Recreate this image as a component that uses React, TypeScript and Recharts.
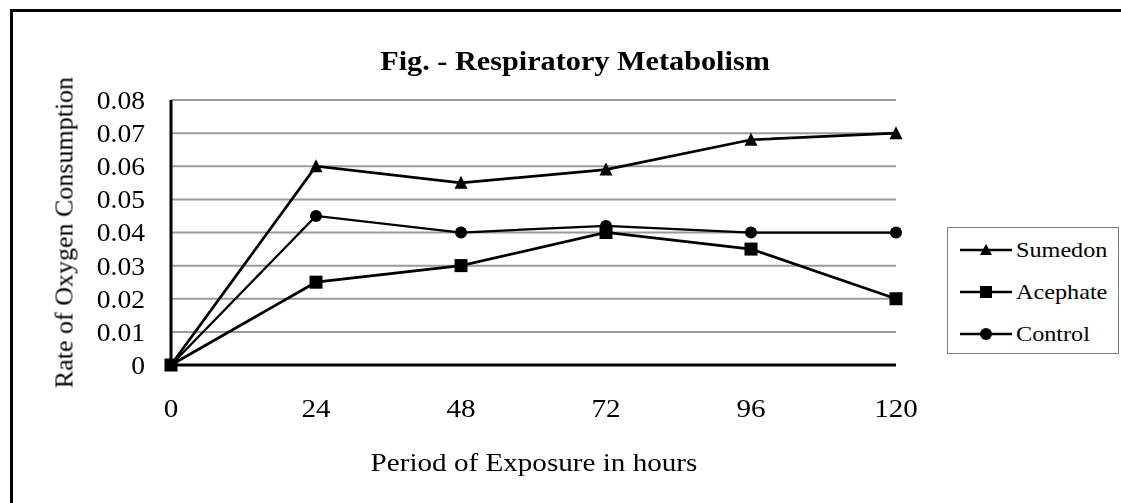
import { LineChart, Line, XAxis, YAxis, CartesianGrid, Legend } from 'recharts';

const hours = ['0', '24', '48', '72', '96', '120'];
const sumedon = [0, 0.06, 0.055, 0.059, 0.068, 0.07];
const acephate = [0, 0.025, 0.03, 0.04, 0.035, 0.02];
const control = [0, 0.045, 0.04, 0.042, 0.04, 0.04];
const yTicks = [0, 0.01, 0.02, 0.03, 0.04, 0.05, 0.06, 0.07, 0.08];

const FONT = '"Liberation Serif", Tinos, "Times New Roman", Times, "DejaVu Serif", serif';
// the reference text is a bit wider than it is tall
const STRETCH = 1.12;

type Shape = 'triangle' | 'square' | 'circle';

const series: { key: string; name: string; shape: Shape }[] = [
  { key: 'sumedon', name: 'Sumedon', shape: 'triangle' },
  { key: 'acephate', name: 'Acephate', shape: 'square' },
  { key: 'control', name: 'Control', shape: 'circle' },
];

const data = hours.map((h, i) => ({
  hour: h,
  sumedon: sumedon[i],
  acephate: acephate[i],
  control: control[i],
}));

function marker(shape: Shape, cx: number, cy: number, key?: string | number) {
  if (shape === 'triangle') {
    return <path key={key} d={`M${cx},${cy - 7} L${cx + 6.5},${cy + 6} L${cx - 6.5},${cy + 6} Z`} fill="#000" />;
  }
  if (shape === 'square') {
    return <rect key={key} x={cx - 6.5} y={cy - 6.5} width={13} height={13} fill="#000" />;
  }
  return <circle key={key} cx={cx} cy={cy} r={6} fill="#000" />;
}

function dotFor(shape: Shape) {
  return (props: any) => marker(shape, props.cx, props.cy, props.index);
}

function XTick(props: any) {
  const { x, y, payload } = props;
  return (
    <text
      x={x}
      y={y + 18}
      textAnchor="middle"
      fontSize={26}
      fontFamily={FONT}
      fill="#000"
      transform={`translate(${x},0) scale(${STRETCH},1) translate(${-x},0)`}
    >
      {payload.value}
    </text>
  );
}

function YTick(props: any) {
  const { x, y, payload } = props;
  const v = payload.value as number;
  return (
    <text
      x={x}
      y={y + 9}
      textAnchor="end"
      fontSize={26}
      fontFamily={FONT}
      fill="#000"
      transform={`translate(${x},0) scale(1.06,1) translate(${-x},0)`}
    >
      {v === 0 ? '0' : v.toFixed(2)}
    </text>
  );
}

function LegendBox() {
  return (
    <div
      style={{
        border: '1px solid #7f7f7f',
        boxSizing: 'border-box',
        width: 172,
        height: 127,
        paddingTop: 1,
        fontFamily: FONT,
        fontSize: 22,
        color: '#000',
        background: '#fff',
      }}
    >
      {series.map((s) => (
        <div key={s.key} style={{ display: 'flex', alignItems: 'center', height: 42, paddingLeft: 12 }}>
          <svg width={52} height={16} style={{ marginRight: 4, flexShrink: 0 }}>
            <line x1={0} y1={8} x2={52} y2={8} stroke="#000" strokeWidth={2.5} />
            {s.shape === 'triangle' && <path d="M26,2 L32,13 L20,13 Z" fill="#000" />}
            {s.shape === 'square' && <rect x={20} y={2} width={12} height={12} fill="#000" />}
            {s.shape === 'circle' && <circle cx={26} cy={8} r={6} fill="#000" />}
          </svg>
          <span style={{ display: 'inline-block', transform: 'scaleX(1.1)', transformOrigin: 'left center' }}>
            {s.name}
          </span>
        </div>
      ))}
    </div>
  );
}

export default function App() {
  return (
    <div style={{ position: 'relative', width: 1105, height: 480, fontFamily: FONT }}>
      {/* frame: only left and top edges show in the reference */}
      <div
        style={{
          position: 'fixed',
          left: 10,
          top: 9,
          width: 1111,
          height: 494,
          borderLeft: '3px solid #000',
          borderTop: '3px solid #000',
          boxSizing: 'border-box',
        }}
      />
      <div
        style={{
          position: 'absolute',
          left: 567 - 300,
          top: 39.5,
          width: 600,
          textAlign: 'center',
          fontSize: 27,
          lineHeight: '27px',
          fontWeight: 'bold',
          color: '#000',
          transform: `scaleX(${STRETCH})`,
        }}
      >
        Fig. - Respiratory Metabolism
      </div>
      <div
        style={{
          position: 'absolute',
          left: 56 - 200,
          top: 224.5 - 13.5,
          width: 400,
          height: 27,
          textAlign: 'center',
          fontSize: 26,
          lineHeight: '27px',
          color: '#000',
          transform: 'rotate(-90deg)',
        }}
      >
        Rate of Oxygen Consumption
      </div>
      <div
        style={{
          position: 'absolute',
          left: 525.5 - 250,
          top: 440.5,
          width: 500,
          textAlign: 'center',
          fontSize: 26,
          lineHeight: '27px',
          color: '#000',
          transform: `scaleX(${STRETCH})`,
        }}
      >
        Period of Exposure in hours
      </div>
      <div style={{ position: 'absolute', left: 0, top: 0 }}>
        <LineChart width={1105} height={480} data={data} margin={{ top: 92, right: 217, bottom: 63, left: 63 }}>
          <CartesianGrid vertical={false} stroke="#9a9a9a" strokeWidth={2} />
          <XAxis
            dataKey="hour"
            height={60}
            tickLine={false}
            tickSize={0}
            tickMargin={33.5}
            axisLine={{ stroke: '#000', strokeWidth: 3 }}
            tick={<XTick />}
          />
          <YAxis
            width={100}
            domain={[0, 0.08]}
            ticks={yTicks}
            interval={0}
            tickLine={false}
            tickSize={0}
            tickMargin={26}
            axisLine={{ stroke: '#000', strokeWidth: 3 }}
            tick={<YTick />}
          />
          <Legend
            layout="horizontal"
            align="center"
            verticalAlign="middle"
            wrapperStyle={{ position: 'fixed', left: 947, top: 227, width: 172, height: 127 }}
            content={() => <LegendBox />}
          />
          <Line
            type="linear"
            dataKey="sumedon"
            name="Sumedon"
            stroke="#000"
            strokeWidth={2.75}
            dot={dotFor('triangle')}
            activeDot={false}
            isAnimationActive={false}
          />
          <Line
            type="linear"
            dataKey="control"
            name="Control"
            stroke="#000"
            strokeWidth={2.25}
            dot={dotFor('circle')}
            activeDot={false}
            isAnimationActive={false}
          />
          <Line
            type="linear"
            dataKey="acephate"
            name="Acephate"
            stroke="#000"
            strokeWidth={2.75}
            dot={dotFor('square')}
            activeDot={false}
            isAnimationActive={false}
          />
        </LineChart>
      </div>
    </div>
  );
}
